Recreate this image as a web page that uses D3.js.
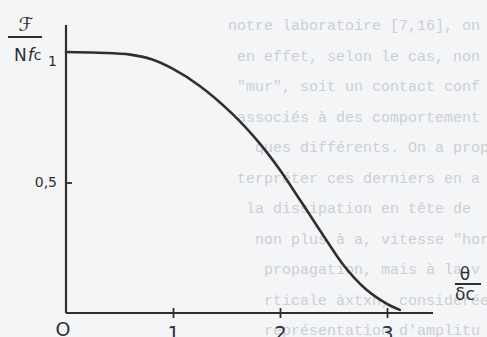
<!DOCTYPE html>
<html>
<head>
<meta charset="utf-8">
<script src="https://cdn.jsdelivr.net/npm/d3@7"></script>
<style>
    body { margin: 0; background: #f3f5f7; }
    svg { display: block; }
    .page { font-family: "Liberation Mono", "DejaVu Sans Mono", monospace; }
    .hand { font-family: "DejaVu Sans", sans-serif; }
</style>
</head>
<body>
<svg class="chart"></svg>
<script>
"use strict";
(function () {

    const WIDTH = 487,
        HEIGHT = 337;

    // curve: F / N fc against theta / delta_c
    const thetaValues = [0, 0.3, 0.6, 0.8, 1.0, 1.25, 1.55, 1.8, 2.0, 2.2, 2.4, 2.6, 2.8, 3.0, 3.12];
    const forceValues = [1.0, 0.997, 0.99, 0.972, 0.935, 0.87, 0.765, 0.655, 0.548, 0.425, 0.3, 0.18, 0.092, 0.035, 0.012];

    const xTicks = [1, 2, 3];
    const xTickLabels = ["1", "2", "3"];
    const yTicks = [0.5, 1];
    const yTickLabels = ["0,5", "1"];

    // the typed page showing through behind the figure
    const pageLines = [
        "notre laboratoire [7,16], on",
        " en effet, selon le cas, non",
        " \"mur\", soit un contact conf",
        " associés à des comportement",
        "   ques différents. On a prop",
        " terpréter ces derniers en a",
        "  la dissipation en tête de",
        "   non plus à a, vitesse \"hor",
        "    propagation, mais à la v",
        "    rticale ȧxtxn, considérée",
        "    représentation d'amplitu"
    ];

    const CHAR_W = 9;

    const svg = d3.select(".chart")
        .attr("width", WIDTH)
        .attr("height", HEIGHT);

    svg.append("g")
        .attr("class", "page")
        .attr("fill", "#cbcfd4")
        .attr("font-size", 15)
        .selectAll("text")
        .data(pageLines)
        .enter()
        .append("text")
        .attr("x", d => 228 + (d.length - d.trimStart().length) * CHAR_W)
        .attr("y", (d, i) => 30 + i * 30.5)
        .text(d => d.trim());

    const x = d3.scaleLinear().domain([0, 3]).range([66, 387]);
    const y = d3.scaleLinear().domain([0, 1]).range([313, 52]);

    const ink = "#2f2f2f";

    // axes, drawn by hand in the original so no domain path from d3.axis
    svg.append("line")
        .attr("x1", x(0)).attr("x2", x(0))
        .attr("y1", 25).attr("y2", y(0))
        .attr("stroke", ink).attr("stroke-width", 2.2);

    svg.append("line")
        .attr("x1", x(0)).attr("x2", 433)
        .attr("y1", y(0)).attr("y2", y(0))
        .attr("stroke", ink).attr("stroke-width", 2.2);

    const xAxis = d3.axisBottom(x)
        .tickValues(xTicks)
        .tickSize(6)
        .tickFormat((d, i) => xTickLabels[i]);

    const gx = svg.append("g")
        .attr("transform", `translate(0,${y(0) - 4})`)
        .call(xAxis);
    gx.select(".domain").remove();
    gx.selectAll(".tick line").attr("stroke", ink).attr("stroke-width", 1.8).attr("y1", -1).attr("y2", 9);
    gx.selectAll(".tick text")
        .attr("class", "hand")
        .attr("fill", ink)
        .attr("font-size", 19)
        .attr("y", 18);

    const yAxis = d3.axisLeft(y)
        .tickValues(yTicks)
        .tickSize(7)
        .tickFormat((d, i) => yTickLabels[i]);

    const gy = svg.append("g")
        .attr("transform", `translate(${x(0)},0)`)
        .call(yAxis);
    gy.select(".domain").remove();
    gy.selectAll(".tick line").attr("stroke", ink).attr("stroke-width", 1.8).attr("x2", 6);
    gy.selectAll(".tick text")
        .attr("class", "hand")
        .attr("fill", ink)
        .attr("font-size", 14)
        .attr("x", -9)
        .attr("dy", (d) => d === 1 ? "0.95em" : "0.25em");
    gy.selectAll(".tick").filter(d => d === 1).select("line").remove();

    svg.append("text")
        .attr("class", "hand")
        .attr("x", x(0) - 3).attr("y", 336)
        .attr("text-anchor", "middle")
        .attr("fill", ink).attr("font-size", 19)
        .text("O");

    // curve
    const line = d3.line()
        .x((d, i) => x(thetaValues[i]))
        .y(d => y(d))
        .curve(d3.curveCatmullRom.alpha(0.5));

    svg.append("path")
        .datum(forceValues)
        .attr("d", line)
        .attr("fill", "none")
        .attr("stroke", ink)
        .attr("stroke-width", 2.6)
        .attr("stroke-linecap", "round");

    // y label: F / N fc
    const yl = svg.append("g").attr("class", "hand").attr("fill", ink);
    yl.append("text")
        .attr("x", 26).attr("y", 31)
        .attr("text-anchor", "middle")
        .attr("font-size", 19)
        .attr("font-style", "italic")
        .text("ℱ");
    yl.append("line")
        .attr("x1", 8).attr("x2", 42)
        .attr("y1", 37).attr("y2", 37)
        .attr("stroke", ink).attr("stroke-width", 2);
    const nf = yl.append("text")
        .attr("x", 14).attr("y", 61)
        .attr("font-size", 17);
    nf.append("tspan").text("N");
    nf.append("tspan").attr("font-style", "italic").attr("dx", 1).text("f");
    nf.append("tspan").attr("font-size", 14).attr("dy", -1).text("c");

    // x label: theta / delta c
    const xl = svg.append("g").attr("class", "hand").attr("fill", ink);
    xl.append("text")
        .attr("x", 465).attr("y", 280)
        .attr("text-anchor", "middle")
        .attr("font-size", 17)
        .text("θ");
    xl.append("line")
        .attr("x1", 455).attr("x2", 481)
        .attr("y1", 284).attr("y2", 284)
        .attr("stroke", ink).attr("stroke-width", 2);
    xl.append("text")
        .attr("x", 455).attr("y", 300)
        .attr("font-size", 17)
        .text("δc");

})();
</script>
</body>
</html>
